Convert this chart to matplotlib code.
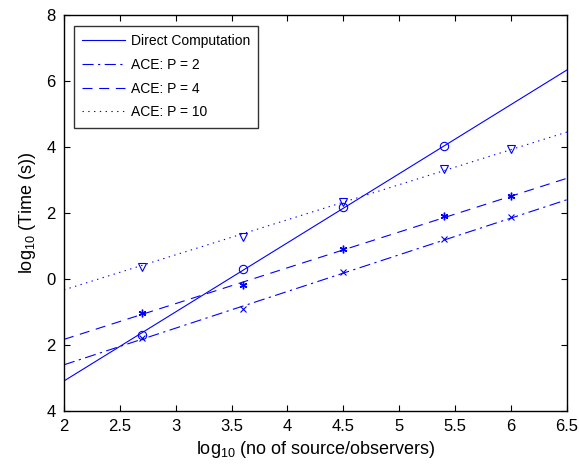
import numpy as np
import matplotlib
matplotlib.use("Agg")
import matplotlib.pyplot as plt

plt.rcParams['font.family'] = ['Liberation Sans', 'DejaVu Sans']
plt.rcParams['mathtext.fontset'] = 'custom'
plt.rcParams['mathtext.rm'] = 'Liberation Sans'

# measured points (log10 N, log10 time)
direct_x = [2.7, 3.6, 4.5, 5.4]
direct_y = [-1.70, 0.30, 2.19, 4.03]
p2_x = [2.7, 3.6, 4.5, 5.4, 6.0]
p2_y = [-1.80, -0.92, 0.22, 1.21, 1.89]
p4_x = [2.7, 3.6, 4.5, 5.4, 6.0]
p4_y = [-1.04, -0.19, 0.90, 1.91, 2.52]
p10_x = [2.7, 3.6, 4.5, 5.4, 6.0]
p10_y = [0.37, 1.28, 2.34, 3.32, 3.95]

# fitted trend lines, end points read at x = 2 and x = 6.5
fit_x = [2.0, 6.5]
direct_fit = [-3.09, 6.33]
p2_fit = [-2.60, 2.40]
p4_fit = [-1.83, 3.05]
p10_fit = [-0.33, 4.45]

ytick_vals = [-4, -2, 0, 2, 4, 6, 8]
ytick_text = ['4', '2', '0', '2', '4', '6', '8']

blue = "#0000ff"

fig = plt.figure(figsize=(5.79, 4.66), dpi=100)
ax = fig.add_axes([0.1105, 0.118, 0.8685, 0.850])

ax.plot(fit_x, direct_fit, '-', color=blue, lw=0.8, label="Direct Computation")
ax.plot(fit_x, p2_fit, color=blue, lw=0.8, dashes=[10, 4, 2, 4], label="ACE: P = 2")
ax.plot(fit_x, p4_fit, color=blue, lw=0.8, dashes=[9, 6], label="ACE: P = 4")
ax.plot(fit_x, p10_fit, color=blue, lw=0.8, dashes=[1.2, 4], label="ACE: P = 10")

ax.plot(direct_x, direct_y, 'o', mfc='none', mec=blue, ms=6, mew=0.8)
ax.plot(p2_x, p2_y, 'x', color=blue, ms=4.5, mew=0.8)
ax.plot(p4_x, p4_y, marker=(6, 2, 0), ls='none', color=blue, ms=5.5, mew=1.0)
ax.plot(p10_x, p10_y, 'v', mfc='none', mec=blue, ms=6, mew=0.8)

ax.set_xlim(2, 6.5)
ax.set_ylim(-4, 8)
ax.set_xticks([2, 2.5, 3, 3.5, 4, 4.5, 5, 5.5, 6, 6.5])
ax.set_xticklabels(['2', '2.5', '3', '3.5', '4', '4.5', '5', '5.5', '6', '6.5'])
ax.set_yticks(ytick_vals)
ax.set_yticklabels(ytick_text)
ax.tick_params(direction='in', top=True, right=True, labelsize=12, length=4,
               width=0.8, pad=6)
for s in ax.spines.values():
    s.set_linewidth(1.0)

ax.set_xlabel(r"log$_{10}$ (no of source/observers)", fontsize=13, labelpad=3)
ax.set_ylabel(r"log$_{10}$ (Time (s))", fontsize=13, labelpad=6)

leg = ax.legend(loc='upper left', fontsize=10, frameon=True, fancybox=False,
                edgecolor='black', handlelength=3.1, handletextpad=0.4,
                borderpad=0.6, labelspacing=0.7,
                bbox_to_anchor=(0.006, 0.99))
leg.get_frame().set_linewidth(1.0)

fig.savefig("out.png", dpi=100)
